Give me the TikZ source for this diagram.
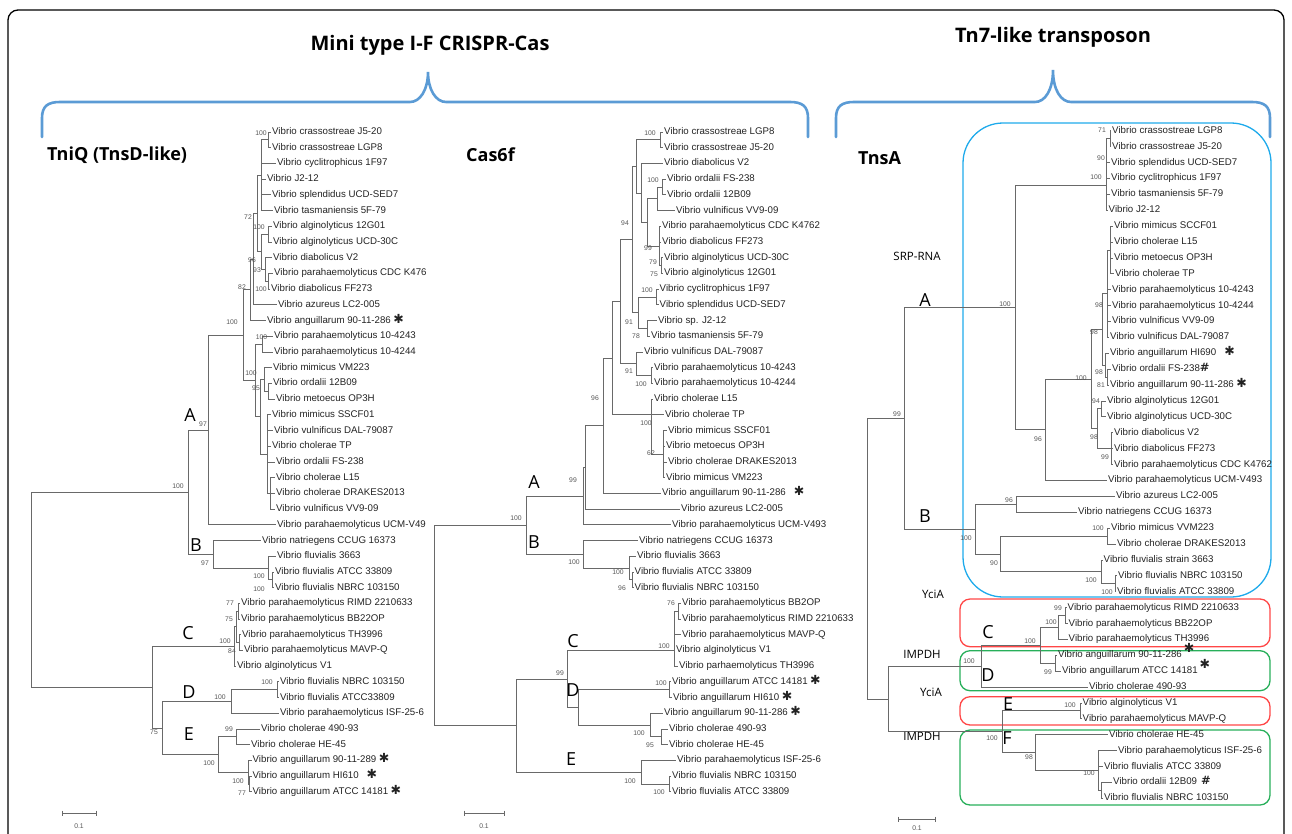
\documentclass[tikz,border=0pt]{standalone}
\usepackage{fontspec}
\setmainfont{Liberation Sans}
\newfontfamily\opensans{Open Sans}
\newfontfamily\djv{DejaVu Sans}
\definecolor{braceblue}{RGB}{91,155,213}
\definecolor{boxblue}{RGB}{30,170,235}
\definecolor{boxred}{RGB}{255,70,70}
\definecolor{boxgreen}{RGB}{40,175,90}
\definecolor{lin}{RGB}{105,105,105}
\definecolor{txt}{RGB}{35,35,35}
\definecolor{bsc}{RGB}{85,85,85}
\newcommand\AST{\hspace{2.5pt}{\djv\fontsize{12.5}{12}\selectfont ✱}}
\newcommand\ASTw{\hspace{8pt}{\djv\fontsize{12.5}{12}\selectfont ✱}}
\newcommand\ASTr{\hspace{2pt}\raisebox{5pt}{\djv\fontsize{12.5}{12}\selectfont ✱}}
\newcommand\HASH{{\djv\bfseries\fontsize{11.5}{11}\selectfont\#}}
\newcommand\HASHw{\hspace{4pt}{\djv\bfseries\fontsize{11.5}{11}\selectfont\#}}
\newcounter{bsc}
\newcommand\bsn[3]{\stepcounter{bsc}\node[bs] (bs\arabic{bsc}) at (#1,#2) {#3};}
\newcommand\leafn[4]{\node[leaf] (#1) at (#2,#3) {#4};}
\newcommand\edg[2]{\foreach \chn in {#2}{\draw[br] (#1) |- (\chn);}}
\tikzset{
 leaf/.style={anchor=west, inner sep=1pt, font=\fontsize{9.7}{11}\selectfont, text=txt, text height=7pt, text depth=2pt},
 br/.style={draw=lin, line width=0.8pt},
 bs/.style={inner sep=0pt, font=\fontsize{6.8}{7}\selectfont, text=bsc},
 clade/.style={inner sep=0pt, font=\opensans\fontsize{18}{18}\selectfont, text=black},
 ttl/.style={inner sep=0pt, font=\opensans\bfseries\fontsize{18}{18}\selectfont, anchor=west},
 head/.style={inner sep=0pt, font=\opensans\bfseries\fontsize{20}{20}\selectfont},
 gene/.style={inner sep=0pt, font=\opensans\fontsize{11.5}{12}\selectfont},
 brace/.style={draw=braceblue, line width=2.6pt, line cap=round},
 grp/.style={line width=1.3pt, rounded corners=10pt},
}
\begin{document}
\begin{tikzpicture}[x=1pt,y=-1pt]
\useasboundingbox (0,0) rectangle (1292,833);
\clip (0,0) rectangle (1292,833);
% frame
\draw[line width=1.3pt, rounded corners=10pt] (8,845) -- (8,10) -- (1284,10) -- (1284,845);
% headers and braces
\node[head] (h1) at (430,45) {Mini type I-F CRISPR-Cas};
\node[head] (h2) at (1053,37) {Tn7-like transposon};
\draw[brace] (42,137) -- (42,118) .. controls (42,106) and (48,102) .. (60,102) -- (410,102) .. controls (420,102) and (428,90) .. (428,72) .. controls (428,90) and (436,102) .. (446,102) -- (790,102) .. controls (802,102) and (808,106) .. (808,118) -- (808,137);
\draw[brace] (836,137) -- (836,118) .. controls (836,106) and (842,102) .. (854,102) -- (1035,102) .. controls (1045,102) and (1053,90) .. (1053,70) .. controls (1053,90) and (1061,102) .. (1071,102) -- (1252,102) .. controls (1264,102) and (1270,106) .. (1270,118) -- (1270,137);
\node[ttl] (tq) at (47,155) {TniQ (TnsD-like)};
\node[ttl] (tc) at (466,155) {Cas6f};
\node[ttl] (tt) at (858,158) {TnsA};
% group boxes
\draw[grp, draw=boxblue, rounded corners=40pt] (963,123) rectangle (1271,597);
\draw[grp, draw=boxred] (960,599) rectangle (1270,646.7);
\draw[grp, draw=boxgreen] (960,650.7) rectangle (1270,690.7);
\draw[grp, draw=boxred] (960,696.7) rectangle (1270,725);
\draw[grp, draw=boxgreen] (960,730) rectangle (1270,805);

%%%%%%%%%%%%%%%% TniQ
\leafn{q1}{271}{132.0}{Vibrio crassostreae J5-20}
\leafn{q2}{271}{147.7}{Vibrio crassostreae LGP8}
\leafn{q3}{276}{163.4}{Vibrio cyclitrophicus 1F97}
\leafn{q4}{266}{179.1}{Vibrio J2-12}
\leafn{q5}{271}{194.8}{Vibrio splendidus UCD-SED7}
\leafn{q6}{273}{210.6}{Vibrio tasmaniensis 5F-79}
\leafn{q7}{272}{226.3}{Vibrio alginolyticus 12G01}
\leafn{q8}{272}{242.0}{Vibrio alginolyticus UCD-30C}
\leafn{q9}{272}{257.7}{Vibrio diabolicus V2}
\leafn{q10}{273}{273.4}{Vibrio parahaemolyticus CDC K476}
\leafn{q11}{270}{289.1}{Vibrio diabolicus FF273}
\leafn{q12}{277}{304.8}{Vibrio azureus LC2-005}
\leafn{q13}{266}{320.5}{Vibrio anguillarum 90-11-286\AST}
\leafn{q14}{273}{336.2}{Vibrio parahaemolyticus 10-4243}
\leafn{q15}{273}{351.9}{Vibrio parahaemolyticus 10-4244}
\leafn{q16}{272}{367.7}{Vibrio mimicus VM223}
\leafn{q17}{272}{383.4}{Vibrio ordalii 12B09}
\leafn{q18}{275}{399.1}{Vibrio metoecus OP3H}
\leafn{q19}{271}{414.8}{Vibrio mimicus SSCF01}
\leafn{q20}{273}{430.5}{Vibrio vulnificus DAL-79087}
\leafn{q21}{271}{446.2}{Vibrio cholerae TP}
\leafn{q22}{275}{461.9}{Vibrio ordalii FS-238}
\leafn{q23}{275}{477.6}{Vibrio cholerae L15}
\leafn{q24}{275}{493.3}{Vibrio cholerae DRAKES2013}
\leafn{q25}{275}{509.0}{Vibrio vulnificus VV9-09}
\leafn{q26}{276}{524.8}{Vibrio parahaemolyticus UCM-V49}
\leafn{q27}{261}{540.5}{Vibrio natriegens CCUG 16373}
\leafn{q28}{276}{556.2}{Vibrio fluvialis 3663}
\leafn{q29}{274}{571.9}{Vibrio fluvialis ATCC 33809}
\leafn{q30}{274}{587.6}{Vibrio fluvialis NBRC 103150}
\leafn{q31}{240}{603.3}{Vibrio parahaemolyticus RIMD 2210633}
\leafn{q32}{240}{619.0}{Vibrio parahaemolyticus BB22OP}
\leafn{q33}{241}{634.7}{Vibrio parahaemolyticus TH3996}
\leafn{q34}{243}{650.4}{Vibrio parahaemolyticus MAVP-Q}
\leafn{q35}{236}{666.1}{Vibrio alginolyticus V1}
\leafn{q36}{279}{681.8}{Vibrio fluvialis NBRC 103150}
\leafn{q37}{279}{697.6}{Vibrio fluvialis ATCC33809}
\leafn{q38}{279}{713.3}{Vibrio parahaemolyticus ISF-25-6}
\leafn{q39}{260}{729.0}{Vibrio cholerae 490-93}
\leafn{q40}{250}{744.7}{Vibrio cholerae HE-45}
\leafn{q41}{251.5}{760.4}{Vibrio anguillarum 90-11-289\AST}
\leafn{q42}{251.5}{776.1}{Vibrio anguillarum HI610\ASTw}
\leafn{q43}{251.5}{791.8}{Vibrio anguillarum ATCC 14181\AST}
\coordinate (qP12) at (268,139.85);
\coordinate (qPo1) at (261,175.2);
\coordinate (qP78) at (268,234.15);
\coordinate (qP1011) at (268,281.25);
\coordinate (qN93) at (265,269.5);
\coordinate (qN96) at (261,251.8);
\coordinate (qN72) at (257,213.5);
\coordinate (qNaz) at (253,259.15);
\coordinate (qN82) at (250,289.8);
\coordinate (qP1415) at (262,344.05);
\coordinate (qY) at (268,391.25);
\coordinate (qX) at (264,379.5);
\coordinate (qZ) at (270,493.3);
\coordinate (qW) at (267,454);
\coordinate (qG16) at (260,416.75);
\coordinate (qG14) at (255,380.4);
\coordinate (qN100) at (243,335.1);
\coordinate (qA) at (208,429.95);
\coordinate (qP2930) at (272,579.75);
\coordinate (qNfl) at (268,567.98);
\coordinate (qB) at (213,554.2);
\coordinate (qAB) at (188,492.1);
\coordinate (qP3132) at (238,611.15);
\coordinate (qP3334) at (239.5,642.55);
\coordinate (qQ) at (236,626.85);
\coordinate (qC) at (234,646.5);
\coordinate (qP3637) at (277,689.7);
\coordinate (qD) at (231,701.5);
\coordinate (qP3940) at (236,736.85);
\coordinate (qP4243) at (249.5,783.95);
\coordinate (qN41) at (248,772.2);
\coordinate (qE) at (218,754.5);
\coordinate (qDE) at (162,728);
\coordinate (qCDE) at (152,687.25);
\coordinate (qR) at (31,589.7);
\edg{qP12}{q1,q2}
\edg{qPo1}{qP12,q3,q4,q5,q6}
\edg{qP78}{q7,q8}
\edg{qP1011}{q10,q11}
\edg{qN93}{q9,qP1011}
\edg{qN96}{qP78,qN93}
\edg{qN72}{qPo1,qN96}
\edg{qNaz}{qN72,q12}
\edg{qN82}{qNaz,q13}
\edg{qP1415}{q14,q15}
\edg{qY}{q17,q18}
\edg{qX}{q16,qY}
\edg{qZ}{q23,q24,q25}
\edg{qW}{q19,q20,q21,q22,qZ}
\edg{qG16}{qX,qW}
\edg{qG14}{qP1415,qG16}
\edg{qN100}{qN82,qG14}
\edg{qA}{qN100,q26}
\edg{qP2930}{q29,q30}
\edg{qNfl}{q28,qP2930}
\edg{qB}{q27,qNfl}
\edg{qAB}{qA,qB}
\edg{qP3132}{q31,q32}
\edg{qP3334}{q33,q34}
\edg{qQ}{qP3132,qP3334}
\edg{qC}{qQ,q35}
\edg{qP3637}{q36,q37}
\edg{qD}{qP3637,q38}
\edg{qP3940}{q39,q40}
\edg{qP4243}{q42,q43}
\edg{qN41}{q41,qP4243}
\edg{qE}{qP3940,qN41}
\edg{qDE}{qD,qE}
\edg{qCDE}{qC,qDE}
\edg{qR}{qAB,qCDE}
\bsn{261}{133}{100}
\bsn{248}{217}{72}
\bsn{259}{227}{100}
\bsn{252}{260}{96}
\bsn{257}{270}{93}
\bsn{261}{289}{100}
\bsn{242}{287}{82}
\bsn{232}{322}{100}
\bsn{261.5}{337}{100}
\bsn{251}{373}{100}
\bsn{256}{388}{95}
\bsn{203}{424}{97}
\bsn{178}{486}{100}
\bsn{205}{563}{97}
\bsn{259}{576}{100}
\bsn{259}{589}{100}
\bsn{230}{603}{77}
\bsn{229}{619}{75}
\bsn{225}{641}{100}
\bsn{232}{651}{84}
\bsn{267}{682}{100}
\bsn{220}{697}{100}
\bsn{229}{729}{99}
\bsn{209}{763}{100}
\bsn{154}{732}{75}
\bsn{238}{781}{100}
\bsn{242}{793}{77}
\node[clade] (qLA) at (190,415) {A};
\node[clade] (qLB) at (196,545) {B};
\node[clade] (qLC) at (188,633) {C};
\node[clade] (qLD) at (189,692) {D};
\node[clade] (qLE) at (189,734) {E};
\coordinate (qs1) at (62,813); \coordinate (qs2) at (96,813);
\draw[br] (qs1) -- (qs2);
\draw[br] ([yshift=2.5pt]qs1) -- ([yshift=-2.5pt]qs1);
\draw[br] ([yshift=2.5pt]qs2) -- ([yshift=-2.5pt]qs2);
\node[bs] (qsl) at (79,826) {0.1};

%%%%%%%%%%%%%%%% Cas6f
\leafn{c1}{663}{132.0}{Vibrio crassostreae LGP8}
\leafn{c2}{663}{147.7}{Vibrio crassostreae J5-20}
\leafn{c3}{663}{163.4}{Vibrio diabolicus V2}
\leafn{c4}{666}{179.1}{Vibrio ordalii FS-238}
\leafn{c5}{666}{194.8}{Vibrio ordalii 12B09}
\leafn{c6}{675}{210.6}{Vibrio vulnificus VV9-09}
\leafn{c7}{661}{226.3}{Vibrio parahaemolyticus CDC K4762}
\leafn{c8}{661}{242.0}{Vibrio diabolicus FF273}
\leafn{c9}{663}{257.7}{Vibrio alginolyticus UCD-30C}
\leafn{c10}{663}{273.4}{Vibrio alginolyticus 12G01}
\leafn{c11}{658.5}{289.1}{Vibrio cyclitrophicus 1F97}
\leafn{c12}{658.5}{304.8}{Vibrio splendidus UCD-SED7}
\leafn{c13}{657}{320.5}{Vibrio sp. J2-12}
\leafn{c14}{650}{336.2}{Vibrio tasmaniensis 5F-79}
\leafn{c15}{643}{351.9}{Vibrio vulnificus DAL-79087}
\leafn{c16}{653}{367.7}{Vibrio parahaemolyticus 10-4243}
\leafn{c17}{653}{383.4}{Vibrio parahaemolyticus 10-4244}
\leafn{c18}{653}{399.1}{Vibrio cholerae L15}
\leafn{c19}{664}{414.8}{Vibrio cholerae TP}
\leafn{c20}{667}{430.5}{Vibrio mimicus SSCF01}
\leafn{c21}{665}{446.2}{Vibrio metoecus OP3H}
\leafn{c22}{667}{461.9}{Vibrio cholerae DRAKES2013}
\leafn{c23}{665}{477.6}{Vibrio mimicus VM223}
\leafn{c24}{661}{493.3}{Vibrio anguillarum 90-11-286\ASTw}
\leafn{c25}{680}{509.0}{Vibrio azureus LC2-005}
\leafn{c26}{671}{524.8}{Vibrio parahaemolyticus UCM-V493}
\leafn{c27}{638}{540.5}{Vibrio natriegens CCUG 16373}
\leafn{c28}{636}{556.2}{Vibrio fluvialis 3663}
\leafn{c29}{633.5}{571.9}{Vibrio fluvialis ATCC 33809}
\leafn{c30}{633.5}{587.6}{Vibrio fluvialis NBRC 103150}
\leafn{c31}{681}{603.3}{Vibrio parahaemolyticus BB2OP}
\leafn{c32}{681}{619.0}{Vibrio parahaemolyticus RIMD 2210633}
\leafn{c33}{681}{634.7}{Vibrio parahaemolyticus MAVP-Q}
\leafn{c34}{675}{650.4}{Vibrio alginolyticus V1}
\leafn{c35}{678}{666.1}{Vibrio parhaemolyticus TH3996}
\leafn{c36}{671}{681.8}{Vibrio anguillarum ATCC 14181\AST}
\leafn{c37}{672}{697.6}{Vibrio anguillarum HI610\AST}
\leafn{c38}{663}{713.3}{Vibrio anguillarum 90-11-286\AST}
\leafn{c39}{668}{729.0}{Vibrio cholerae 490-93}
\leafn{c40}{668}{744.7}{Vibrio cholerae HE-45}
\leafn{c41}{676}{760.4}{Vibrio parahaemolyticus ISF-25-6}
\leafn{c42}{671}{776.1}{Vibrio fluvialis NBRC 103150}
\leafn{c43}{671}{791.8}{Vibrio fluvialis ATCC 33809}
\coordinate (cP12) at (660,139.85);
\coordinate (cP45) at (662,186.95);
\coordinate (cN456) at (657,198.8);
\coordinate (cP910) at (661,265.55);
\coordinate (cC710) at (659,245.9);
\coordinate (cN647) at (647,222.35);
\coordinate (cN3) at (641.7,192.9);
\coordinate (cN637) at (636.7,166.4);
\coordinate (cP1112) at (656,296.95);
\coordinate (cN78) at (647,328.35);
\coordinate (cN91) at (638,312.65);
\coordinate (cN94) at (632.7,239.5);
\coordinate (cP1617) at (651,375.55);
\coordinate (cN91b) at (636,363.7);
\coordinate (cN620) at (620,301.6);
\coordinate (cC2023) at (663,454.05);
\coordinate (cN100c) at (651,414.8);
\coordinate (cN612) at (612,358.2);
\coordinate (cN96) at (603,425.75);
\coordinate (cA1) at (585,467.4);
\coordinate (cA) at (583,496.1);
\coordinate (cP2930) at (632,579.75);
\coordinate (cNfl) at (629,567.98);
\coordinate (cB) at (583,554.24);
\coordinate (cAB) at (526,525.17);
\coordinate (cP3132) at (678,611.15);
\coordinate (cC) at (674,650.4);
\coordinate (cP3637) at (669,689.7);
\coordinate (cP3940) at (661,736.85);
\coordinate (cN38) at (650,725.1);
\coordinate (cD) at (578,707.4);
\coordinate (cCD) at (567,678.9);
\coordinate (cP4243) at (669,783.95);
\coordinate (cE) at (641.7,772.2);
\coordinate (cCDE) at (516,725.55);
\coordinate (cR) at (434,625.36);
\edg{cP12}{c1,c2}
\edg{cP45}{c4,c5}
\edg{cN456}{cP45,c6}
\edg{cP910}{c9,c10}
\edg{cC710}{c7,c8,cP910}
\edg{cN647}{cN456,cC710}
\edg{cN3}{c3,cN647}
\edg{cN637}{cP12,cN3}
\edg{cP1112}{c11,c12}
\edg{cN78}{c13,c14}
\edg{cN91}{cP1112,cN78}
\edg{cN94}{cN637,cN91}
\edg{cP1617}{c16,c17}
\edg{cN91b}{c15,cP1617}
\edg{cN620}{cN94,cN91b}
\edg{cC2023}{c20,c21,c22,c23}
\edg{cN100c}{c18,c19,cC2023}
\edg{cN612}{cN620,cN100c}
\edg{cN96}{cN612,c24}
\edg{cA1}{cN96,c25}
\edg{cA}{cA1,c26}
\edg{cP2930}{c29,c30}
\edg{cNfl}{c28,cP2930}
\edg{cB}{c27,cNfl}
\edg{cAB}{cA,cB}
\edg{cP3132}{c31,c32}
\edg{cC}{cP3132,c33,c34,c35}
\edg{cP3637}{c36,c37}
\edg{cP3940}{c39,c40}
\edg{cN38}{c38,cP3940}
\edg{cD}{cP3637,cN38}
\edg{cCD}{cC,cD}
\edg{cP4243}{c42,c43}
\edg{cE}{c41,cP4243}
\edg{cCDE}{cCD,cE}
\edg{cR}{cAB,cCDE}
\bsn{650}{133}{100}
\bsn{653}{180}{100}
\bsn{648}{248}{99}
\bsn{653}{262}{79}
\bsn{654}{274}{75}
\bsn{625}{223}{94}
\bsn{647}{290}{100}
\bsn{629}{322}{91}
\bsn{636}{336}{78}
\bsn{629}{371}{91}
\bsn{641}{384}{100}
\bsn{595}{398}{96}
\bsn{646}{423}{100}
\bsn{651}{453}{62}
\bsn{573}{480}{99}
\bsn{516}{518}{100}
\bsn{574}{562}{100}
\bsn{618}{572}{100}
\bsn{622}{588}{96}
\bsn{671}{603}{76}
\bsn{664}{646}{100}
\bsn{560}{673}{99}
\bsn{661}{683}{100}
\bsn{639}{733}{100}
\bsn{650}{745}{95}
\bsn{630}{781}{100}
\bsn{659}{792}{100}
\node[clade] (cLA) at (534,482) {A};
\node[clade] (cLB) at (534,542) {B};
\node[clade] (cLC) at (573,641) {C};
\node[clade] (cLD) at (573,690) {D};
\node[clade] (cLE) at (571,759) {E};
\coordinate (cs1) at (464,813); \coordinate (cs2) at (504,813);
\draw[br] (cs1) -- (cs2);
\draw[br] ([yshift=2.5pt]cs1) -- ([yshift=-2.5pt]cs1);
\draw[br] ([yshift=2.5pt]cs2) -- ([yshift=-2.5pt]cs2);
\node[bs] (csl) at (484,826) {0.1};

%%%%%%%%%%%%%%%% TnsA
\leafn{t1}{1111}{130.7}{Vibrio crassostreae LGP8}
\leafn{t2}{1111}{146.6}{Vibrio crassostreae J5-20}
\leafn{t3}{1110}{162.5}{Vibrio splendidus UCD-SED7}
\leafn{t4}{1110}{178.4}{Vibrio cyclitrophicus 1F97}
\leafn{t5}{1110}{194.3}{Vibrio tasmaniensis 5F-79}
\leafn{t6}{1107.5}{210.2}{Vibrio J2-12}
\leafn{t7}{1113}{226.1}{Vibrio mimicus SCCF01}
\leafn{t8}{1113}{242.0}{Vibrio cholerae L15}
\leafn{t9}{1113}{257.9}{Vibrio metoecus OP3H}
\leafn{t10}{1114}{273.8}{Vibrio cholerae TP}
\leafn{t11}{1111}{289.7}{Vibrio parahaemolyticus 10-4243}
\leafn{t12}{1111}{305.6}{Vibrio parahaemolyticus 10-4244}
\leafn{t13}{1111}{321.4}{Vibrio vulnificus VV9-09}
\leafn{t14}{1109}{337.3}{Vibrio vulnificus DAL-79087}
\leafn{t15}{1109}{353.2}{Vibrio anguillarum HI690\ASTw}
\leafn{t16}{1111}{369.1}{Vibrio ordalii FS-238\HASH}
\leafn{t17}{1109}{385.0}{Vibrio anguillarum 90-11-286\AST}
\leafn{t18}{1106}{400.9}{Vibrio alginolyticus 12G01}
\leafn{t19}{1106}{416.8}{Vibrio alginolyticus UCD-30C}
\leafn{t20}{1113}{432.7}{Vibrio diabolicus V2}
\leafn{t21}{1113}{448.6}{Vibrio diabolicus FF273}
\leafn{t22}{1113}{464.5}{Vibrio parahaemolyticus CDC K4762}
\leafn{t23}{1107}{480.4}{Vibrio parahaemolyticus UCM-V493}
\leafn{t24}{1115}{496.3}{Vibrio azureus LC2-005}
\leafn{t25}{1077}{512.2}{Vibrio natriegens CCUG 16373}
\leafn{t26}{1110}{528.1}{Vibrio mimicus VVM223}
\leafn{t27}{1116}{544.0}{Vibrio cholerae DRAKES2013}
\leafn{t28}{1102.5}{559.9}{Vibrio fluvialis strain 3663}
\leafn{t29}{1117}{575.8}{Vibrio fluvialis NBRC 103150}
\leafn{t30}{1116}{591.7}{Vibrio fluvialis ATCC 33809}
\leafn{t31}{1066.5}{607.6}{Vibrio parahaemolyticus RIMD 2210633}
\leafn{t32}{1067.5}{623.5}{Vibrio parahaemolyticus BB22OP}
\leafn{t33}{1067.5}{639.4}{Vibrio parahaemolyticus TH3996}
\leafn{t34}{1057}{655.2}{Vibrio anguillarum 90-11-286\ASTr}
\leafn{t35}{1061}{671.1}{Vibrio anguillarum ATCC 14181\ASTr}
\leafn{t36}{1088}{687.0}{Vibrio cholerae 490-93}
\leafn{t37}{1081.5}{702.9}{Vibrio alginolyticus V1}
\leafn{t38}{1081.5}{718.8}{Vibrio parahaemolyticus MAVP-Q}
\leafn{t39}{1108}{734.7}{Vibrio cholerae HE-45}
\leafn{t40}{1117}{750.6}{Vibrio parahaemolyticus ISF-25-6}
\leafn{t41}{1103}{766.5}{Vibrio fluvialis ATCC 33809}
\leafn{t42}{1112}{782.4}{Vibrio ordalii 12B09\HASHw}
\leafn{t43}{1103}{798.3}{Vibrio fluvialis NBRC 103150}
\coordinate (tP12) at (1110,138.65);
\coordinate (tU) at (1106,185);
\coordinate (tM1) at (1110,250);
\coordinate (tM) at (1107,293.7);
\coordinate (tP1617) at (1107.5,377.05);
\coordinate (tQ) at (1105,365.1);
\coordinate (tT) at (1102,329.4);
\coordinate (tP1819) at (1101.7,408.85);
\coordinate (tV) at (1111.7,448.6);
\coordinate (tL) at (1097,428.7);
\coordinate (tN100x) at (1091.7,379.05);
\coordinate (tN96) at (1045,429.7);
\coordinate (tAs) at (1015,307.35);
\coordinate (tN96b) at (1016.7,504.25);
\coordinate (tP2627) at (1107,536.05);
\coordinate (tP2930) at (1115,583.75);
\coordinate (tN100f) at (1101.7,571.8);
\coordinate (tN90) at (1000.7,553.9);
\coordinate (tB) at (975.7,529.1);
\coordinate (tAB) at (904,418.2);
\coordinate (tP3132) at (1065,615.55);
\coordinate (tC) at (1058,627.5);
\coordinate (tD) at (1055,663.15);
\coordinate (tCDin) at (1040,645.3);
\coordinate (tCD) at (981.7,666.15);
\coordinate (tE) at (1080,710.85);
\coordinate (tH) at (1101,790.35);
\coordinate (tG) at (1098,770.5);
\coordinate (tF) at (1035,752.6);
\coordinate (tEF) at (1002,731.7);
\coordinate (tCDEF) at (888,698.9);
\coordinate (tR) at (867,558.55);
\edg{tP12}{t1,t2}
\edg{tU}{tP12,t3,t4,t5,t6}
\edg{tM1}{t7,t8,t9,t10}
\edg{tM}{tM1,t11,t12,t13,t14}
\edg{tP1617}{t16,t17}
\edg{tQ}{t15,tP1617}
\edg{tT}{tM,tQ}
\edg{tP1819}{t18,t19}
\edg{tV}{t20,t21,t22}
\edg{tL}{tP1819,tV}
\edg{tN100x}{tT,tL}
\edg{tN96}{tN100x,t23}
\edg{tAs}{tU,tN96}
\edg{tN96b}{t24,t25}
\edg{tP2627}{t26,t27}
\edg{tP2930}{t29,t30}
\edg{tN100f}{t28,tP2930}
\edg{tN90}{tP2627,tN100f}
\edg{tB}{tN96b,tN90}
\edg{tAB}{tAs,tB}
\edg{tP3132}{t31,t32}
\edg{tC}{tP3132,t33}
\edg{tD}{t34,t35}
\edg{tCDin}{tC,tD}
\edg{tCD}{tCDin,t36}
\edg{tE}{t37,t38}
\edg{tH}{t42,t43}
\edg{tG}{t40,t41,tH}
\edg{tF}{t39,tG}
\edg{tEF}{tE,tF}
\edg{tCDEF}{tCD,tEF}
\edg{tR}{tAB,tCDEF}
\bsn{1102}{130}{71}
\bsn{1101}{158}{90}
\bsn{1096}{177}{100}
\bsn{1099}{305}{98}
\bsn{1094}{332}{98}
\bsn{1081}{378}{100}
\bsn{1099}{372}{98}
\bsn{1101}{385}{81}
\bsn{1096}{401}{94}
\bsn{1094}{437}{98}
\bsn{1105}{457}{99}
\bsn{1038}{439}{96}
\bsn{1098}{528}{100}
\bsn{1091}{580}{100}
\bsn{1107}{592}{100}
\bsn{1058}{608}{99}
\bsn{1051}{622}{100}
\bsn{1030}{641}{100}
\bsn{1048}{672}{99}
\bsn{1070}{705}{100}
\bsn{1089}{773}{100}
\bsn{1029}{757}{98}
\bsn{1005}{304}{100}
\bsn{897}{414}{99}
\bsn{1009}{500}{96}
\bsn{966}{538}{100}
\bsn{994}{563}{90}
\bsn{969}{661}{100}
\bsn{992}{738}{100}
\node[gene] (srp) at (917,256) {SRP-RNA};
\node[gene] (yc1) at (933,594) {YciA};
\node[gene] (im1) at (922,654) {IMPDH};
\node[gene] (yc2) at (931,692) {YciA};
\node[gene] (im2) at (922,736) {IMPDH};
\node[clade] (tLA) at (925,300) {A};
\node[clade] (tLB) at (925,516) {B};
\node[clade] (tLC) at (988,632) {C};
\node[clade] (tLD) at (988,675) {D};
\node[clade] (tLE) at (1008,704) {E};
\node[clade] (tLF) at (1007,738.5) {F};
\coordinate (ts1) at (898,819); \coordinate (ts2) at (935,819);
\draw[br] (ts1) -- (ts2);
\draw[br] ([yshift=2.5pt]ts1) -- ([yshift=-2.5pt]ts1);
\draw[br] ([yshift=2.5pt]ts2) -- ([yshift=-2.5pt]ts2);
\node[bs] (tsl) at (917,828) {0.1};
\end{tikzpicture}
\end{document}
